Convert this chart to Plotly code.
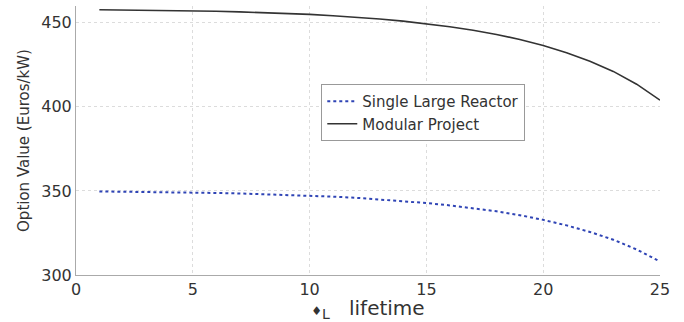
import plotly.graph_objects as go

lifetime = list(range(1, 26))
modular = [457.8, 457.7, 457.6, 457.4, 457.2, 456.9, 456.5, 456.1, 455.6, 455.0,
           454.2, 453.3, 452.3, 451.0, 449.5, 447.7, 445.6, 443.1, 440.1, 436.5,
           432.2, 427.1, 421.1, 413.5, 404.0]
single = [349.7, 349.6, 349.5, 349.3, 349.1, 348.8, 348.5, 348.1, 347.7, 347.2,
          346.6, 345.9, 345.0, 344.0, 342.8, 341.4, 339.8, 337.9, 335.6, 332.8,
          329.5, 325.6, 321.0, 315.2, 308.0]
x_ticks = [0, 5, 10, 15, 20, 25]
y_ticks = [300, 350, 400, 450]

fig = go.Figure()
fig.add_trace(go.Scatter(x=lifetime, y=single, mode="lines", name="Single Large Reactor",
                         line=dict(color="#2f44b5", width=2, dash="dot")))
fig.add_trace(go.Scatter(x=lifetime, y=modular, mode="lines", name="Modular Project",
                         line=dict(color="#333333", width=1.6)))

font = "DejaVu Sans, sans-serif"
fig.update_layout(
    width=684, height=322,
    margin=dict(l=76, r=24, t=6, b=47),
    paper_bgcolor="white", plot_bgcolor="white",
    font=dict(family=font, color="#333333"),
    showlegend=True,
    legend=dict(x=0.42, y=0.71, xanchor="left", yanchor="top",
                bgcolor="white", bordercolor="#999999", borderwidth=1,
                font=dict(size=15, color="#333333"), itemwidth=30,
                tracegroupgap=0),
    xaxis=dict(range=[0, 25], tickvals=x_ticks, showgrid=True, gridcolor="#dcdcdc",
               griddash="dot", gridwidth=1, zeroline=False, showline=True,
               linecolor="#aaaaaa", linewidth=1, ticks="", tickfont=dict(size=16),
               title=dict(text="<span style=\"font-size:12px\">♦</span><sub>L</sub>&nbsp;&nbsp;&nbsp;lifetime",
                          font=dict(size=20), standoff=0)),
    yaxis=dict(range=[300, 460], tickvals=y_ticks, showgrid=True, gridcolor="#dcdcdc",
               griddash="dot", gridwidth=1, zeroline=False, showline=True,
               linecolor="#aaaaaa", linewidth=1, ticks="", tickfont=dict(size=16),
               title=dict(text="Option Value (Euros/kW)", font=dict(size=15), standoff=8)),
)
fig.write_html("out.html")
